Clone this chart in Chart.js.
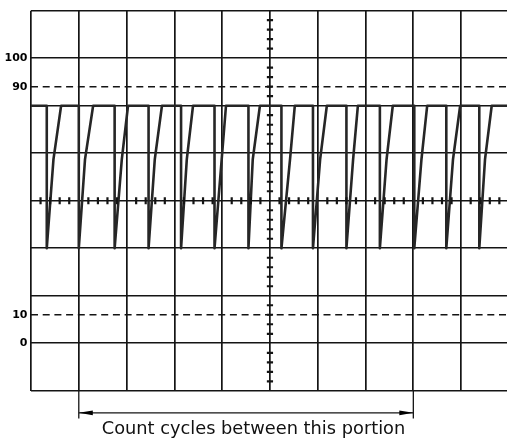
<!DOCTYPE html>
<html><head><meta charset="utf-8">
<script src="https://cdn.jsdelivr.net/npm/chart.js@4.4.0/dist/chart.umd.min.js"></script>
<style>html,body{margin:0;padding:0;background:#fff;}#wrap{width:507px;height:438px;}</style>
</head><body><div id="wrap"><canvas id="c" width="507" height="438"></canvas></div>
<script>
// ---- scale / graticule (divisions) ----
const xMax = 9.96;                 // visible horizontal divisions
const yMin = -50 / 3, yMax = 350 / 3; // percent scale: 8 divisions, 0..100 = 6 div
const divPct = 50 / 3;
const centerX = 5;                 // centre vertical graticule line (div)
const centerY = 50;                // centre horizontal graticule line (%)

// ---- tick labels ----
const tickValues = [0, 10, 90, 100];
const tickLabels = ['0', '10', '90', '100'];
const dashedLevels = [10, 90];

// ---- waveform levels (%) ----
const topLevel = 83.33;
const bottomLevel = 33.33;
const midLevel = 64.5;

// ---- waveform timing per cycle (divisions) ----
const fallT = [0.33, 1.00, 1.75, 2.46, 3.14, 3.84, 4.55, 5.24, 5.90, 6.60, 7.30, 8.02, 8.69, 9.38];
const midT  = [0.47, 1.13, 1.90, 2.59, 3.26, 3.99, 4.64, 5.42, 6.05, 6.74, 7.44, 8.17, 8.83, 9.50];
const topT  = [0.63, 1.30, 2.03, 2.74, 3.39, 4.08, 4.79, 5.52, 6.19, 6.84, 7.57, 8.29, 8.98, 9.64];

// ---- annotation ----
const arrowFrom = 1, arrowTo = 8;
const arrowLevel = -24.4, arrowEndLevel = -26.4;
const caption = 'Count cycles between this portion';

// graticule structure
const xGrid = [];
for (let i = 0; i <= 9; i++) xGrid.push(i);
const yGrid = [];
for (let k = 0; k <= 8; k++) yGrid.push(yMin + k * divPct);
const yTicksAll = yGrid.concat(tickValues.filter(v => !yGrid.some(g => Math.abs(g - v) < 1e-6))).sort((a, b) => a - b);
const hMinor = [];
for (let k = 1; k < 50; k++) { if (k % 5) hMinor.push({x: k / 5, y: centerY}); }
const vMinor = [];
for (let k = 1; k < 40; k++) { if (k % 5) vMinor.push({x: centerX, y: yMin + k * divPct / 5}); }

const wave = [{x: 0, y: topLevel}];
fallT.forEach((f, i) => {
  wave.push({x: f, y: topLevel}, {x: f, y: bottomLevel}, {x: midT[i], y: midLevel}, {x: topT[i], y: topLevel});
});
wave.push({x: xMax, y: topLevel});

const isDashed = v => dashedLevels.some(d => Math.abs(d - v) < 1e-6);
const ink = '#141414';

const datasets = [];
dashedLevels.forEach(lv => datasets.push({
  data: [{x: 0, y: lv}, {x: xMax, y: lv}], showLine: true, borderColor: ink, borderWidth: 1.5,
  borderDash: [7, 4.7], pointRadius: 0
}));
datasets.push({data: hMinor, pointStyle: 'line', pointRotation: 90, pointRadius: 3.4, pointBorderWidth: 2.2, pointBorderColor: ink, pointBackgroundColor: ink});
datasets.push({data: vMinor, pointStyle: 'line', pointRotation: 0, pointRadius: 3.1, pointBorderWidth: 2.2, pointBorderColor: ink, pointBackgroundColor: ink});
datasets.push({data: wave, showLine: true, borderColor: '#262626', borderWidth: 2.6, pointRadius: 0, borderJoinStyle: 'round', borderCapStyle: 'round'});
datasets.push({data: [{x: arrowFrom, y: arrowLevel}, {x: arrowTo, y: arrowLevel}], showLine: true, borderColor: ink, borderWidth: 1.1, pointRadius: 0, clip: false});
datasets.push({data: [{x: arrowFrom, y: yMin}, {x: arrowFrom, y: arrowEndLevel}], showLine: true, borderColor: ink, borderWidth: 1.3, pointRadius: 0, clip: false});
datasets.push({data: [{x: arrowTo, y: yMin}, {x: arrowTo, y: arrowEndLevel}], showLine: true, borderColor: ink, borderWidth: 1.3, pointRadius: 0, clip: false});

// arrowheads at the ends of the bracket, placed through the scales
const arrowHeads = {
  id: 'arrowHeads',
  afterDatasetsDraw(chart) {
    const {ctx, scales: {x, y}} = chart;
    const py = y.getPixelForValue(arrowLevel);
    const ends = [[x.getPixelForValue(arrowFrom), 1], [x.getPixelForValue(arrowTo), -1]];
    ctx.save();
    ctx.fillStyle = '#000';
    ends.forEach(([px, dir]) => {
      ctx.beginPath();
      ctx.moveTo(px, py);
      ctx.lineTo(px + dir * 14, py - 2.3);
      ctx.lineTo(px + dir * 14, py + 2.3);
      ctx.closePath();
      ctx.fill();
    });
    ctx.restore();
  }
};

new Chart(document.getElementById('c'), {
  type: 'scatter',
  data: {datasets},
  plugins: [arrowHeads],
  options: {
    responsive: false, animation: false, events: [],
    layout: {autoPadding: false, padding: {left: 0, right: 0, top: 10.7, bottom: 0}},
    plugins: {
      legend: {display: false}, tooltip: {enabled: false},
      title: {display: true, position: 'bottom', text: caption, color: '#111',
        font: {family: 'DejaVu Sans', size: 17.8, weight: 'normal', lineHeight: 0.95},
        padding: {top: 30.3, bottom: 0}}
    },
    scales: {
      x: {type: 'linear', min: 0, max: xMax,
        afterBuildTicks: s => { s.ticks = xGrid.map(v => ({value: v})); },
        afterFit: s => { s.height = 0; },
        ticks: {display: false},
        grid: {color: ink, lineWidth: 1.7, drawTicks: false},
        border: {display: false}},
      y: {type: 'linear', min: yMin, max: yMax, position: 'left',
        afterBuildTicks: s => { s.ticks = yTicksAll.map(v => ({value: v})); },
        afterFit: s => { s.width = 31; },
        ticks: {autoSkip: false, padding: 3.5, color: '#000',
          font: {family: 'DejaVu Sans', size: 11, weight: 'bold'},
          callback: v => { const i = tickValues.findIndex(t => Math.abs(t - v) < 1e-6); return i >= 0 ? tickLabels[i] : ''; }},
        grid: {color: c => isDashed(c.tick.value) ? 'rgba(0,0,0,0)' : ink, lineWidth: 1.6, drawTicks: false},
        border: {display: false}}
    }
  }
});
</script>
</body></html>
